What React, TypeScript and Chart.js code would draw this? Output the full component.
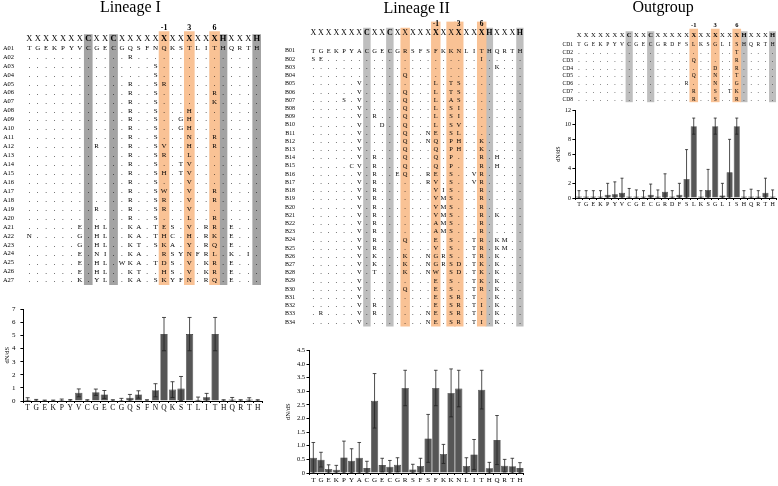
import React, { useEffect, useRef } from 'react';
import { Chart, registerables } from 'chart.js';

Chart.register(...registerables);

const SERIF = '"Liberation Serif", "Times New Roman", Times, serif';
const clean = (s: string) => s.replace(/ /g, '');

// ---------------- data: Lineage I ----------------
const lineage1Labels = ['T','G','E','K','P','Y','V','C','G','E','C','G','Q','S','F','N','Q','K','S','T','L','I','T','H','Q','R','T','H'];
const lineage1Values = [0.1,0.04,0.03,0.03,0.05,0.03,0.62,0.03,0.67,0.5,0.03,0.04,0.25,0.5,0.03,0.82,5.1,0.87,0.95,5.1,0.1,0.28,5.1,0.03,0.12,0.03,0.12,0.05];
const lineage1Errors = [0.15,0.08,0.04,0.04,0.1,0.08,0.3,0.07,0.24,0.3,0.07,0.16,0.25,0.28,0.07,0.5,1.27,0.6,0.92,1.27,0.2,0.3,1.27,0.07,0.15,0.07,0.13,0.05];
const lineage1RowNames = ['A01','A02','A03','A04','A05','A06','A07','A08','A09','A10','A11','A12','A13','A14','A15','A16','A17','A18','A19','A20','A21','A22','A23','A24','A25','A26','A27'];
const lineage1Alignment = [
  'TGEKPYV CGEC GQSFN QKST LITH QRTH',
  '....... .... .R... .... .... ....',
  '....... .... ....S .... .... ....',
  '....... .... ....S .... .... ....',
  '....... .... .R..S R... .... ....',
  '....... .... .R..S .... ..R. ....',
  '....... .... .R..S .... ..K. ....',
  '....... .... .R..S ...H .... ....',
  '....... .... .R..S ..GH .... ....',
  '....... .... .R..S ..GH .... ....',
  '....... .... .R..S ...N ..R. ....',
  '....... .R.. .R..S V..H ..R. ....',
  '....... .... .R..S R..L .... ....',
  '....... .... .R..S ..TV .... ....',
  '....... .... .R..S H.TV .... ....',
  '....... .... .R..S ...V .... ....',
  '....... .... .R..S W..V ..R. ....',
  '....... .... .R..S R..V ..R. ....',
  '....... .R.. .R..S R..V .... ....',
  '....... .... .R..S ...L ..R. ....',
  '......E .HL. .KA.T ES.V .RR. E...',
  'N.....G .HL. .KA.T HC.H .RK. E...',
  '......G .HL. .KT.S KA.Y .RQ. E...',
  '......E .NI. .KA.. RSYN FRL. K.I.',
  '......E .HL. WKA.T DS.V .KR. E...',
  '......E .HL. .KT.. HS.V .KR. E...',
  '......K .YL. .KA.S KYFN .RQ. E...',
];

// ---------------- data: Lineage II ----------------
const lineage2Labels = ['T','G','E','K','P','Y','A','C','G','E','C','G','R','S','F','S','F','K','K','N','L','I','T','H','Q','R','T','H'];
const lineage2Values = [0.56,0.49,0.15,0.12,0.57,0.45,0.56,0.18,2.65,0.29,0.23,0.3,3.12,0.13,0.26,1.27,3.12,0.7,2.94,3.1,0.26,0.68,3.06,0.17,1.21,0.27,0.25,0.18];
const lineage2Errors = [0.56,0.27,0.15,0.16,0.6,0.44,0.56,0.25,1.0,0.25,0.23,0.26,0.65,0.19,0.28,0.88,0.65,0.35,0.88,0.67,0.3,0.55,0.71,0.22,0.9,0.23,0.29,0.2];
const lineage2RowNames = ['B01','B02','B03','B04','B05','B06','B07','B08','B09','B10','B11','B12','B13','B14','B15','B16','B17','B18','B19','B20','B21','B22','B23','B24','B25','B26','B27','B28','B29','B30','B31','B32','B33','B34'];
const lineage2Alignment = [
  'TGEKPYA CGEC GRSFS FKKN LITH QRTH',
  'SE..... .... ..... .... ..I. ....',
  '....... .... ..... .... .... K...',
  '....... .... .Q... .... .... ....',
  '......V .... ..... L.TS .... ....',
  '......V .... .Q... L.TS .... ....',
  '....S.V .... .Q... L.AS .... ....',
  '......V .... .Q... L.SI .... ....',
  '......V .R.. .Q... L.SI .... ....',
  '......V ..D. .Q... L.SV .... ....',
  '......V .... .Q..N E.SL .... ....',
  '......V .... .Q..N Q.PH ..K. ....',
  '......V .... .Q... Q.PH ..K. ....',
  '......V .R.. .Q... Q.P. ..R. H...',
  '.....CV .R.. .Q... Q.P. ..R. H...',
  '......V .R.. EQ..R E.S. .VR. ....',
  '......V .R.. ....R V.S. .VR. ....',
  '......V .R.. ..... VIS. ..R. ....',
  '......V .R.. ..... VMS. ..R. ....',
  '......V .R.. ..... VMS. ..R. ....',
  '......V .R.. ..... VMS. ..R. K...',
  '......V .R.. ..... AMS. ..R. ....',
  '......V .R.. ..... AMS. ..R. ....',
  '......V .R.. .Q... E.S. .TR. KM..',
  '......V .R.. ..... V.S. .TR. KM..',
  '......V .K.. .K..N GRS. .TR. K...',
  '......V .K.. .K..N GRSD .TK. K...',
  '......V .T.. .K..N W.SD .TK. K...',
  '......V .... ..... E.S. .TK. K...',
  '......V .... .Q... E.S. .TR. K...',
  '......V .... ..... E.SR .T.. K...',
  '......V .R.. ..... E.SR .TI. K...',
  '.R....V .R.. ....N E.SR .TI. K...',
  '......V .... ....N E.SR .TI. K...',
];

// ---------------- data: Outgroup ----------------
const outgroupLabels = ['T','G','E','K','P','Y','V','C','G','E','C','G','R','D','F','S','L','K','S','G','L','I','S','H','Q','R','T','H'];
const outgroupValues = [0.2,0.2,0.2,0.2,0.45,0.5,0.7,0.2,0.2,0.2,0.45,0.2,0.85,0.2,0.45,2.6,9.8,0.2,1.1,9.8,0.35,3.5,9.8,0.2,0.2,0.2,0.7,0.2];
const outgroupErrors = [0.8,0.8,0.8,0.8,1.55,1.7,2.0,1.1,0.9,0.8,1.45,0.9,2.45,0.8,1.55,4.0,1.1,0.8,2.8,1.1,1.65,4.5,1.1,0.8,1.0,0.8,2.0,0.9];
const outgroupRowNames = ['CD1','CD2','CD3','CD4','CD5','CD6','CD7','CD8'];
const outgroupAlignment = [
  'TGEKPYV CGEC GRDFS LKSG LISH QRTH',
  '....... .... ..... .... ..T. ....',
  '....... .... ..... Q... ..R. ....',
  '....... .... ..... ...D ..R. ....',
  '....... .... ..... Q..N ..T. ....',
  '....... .... ....R ...N ..G. ....',
  '....... .... ..... R..S .TK. ....',
  '....... .... ..... R..S ..R. ....',
];

// ---------------- shared motif annotation ----------------
const motifHeader = 'XXXXXXX CXXC XXXXX XXXX XXXH XXXH';
const motifBoldCols = [7, 10, 16, 19, 22, 23, 27];
const positionCols = [16, 19, 22];
const positionLabels = ['-1', '3', '6'];
const grayCols = [7, 10, 23, 27];
const orangeColsL1 = [16, 19, 22];
const orangeColsL2 = [12, 16, 18, 19, 22];
const orangeShortColsL2 = [12];
const orangeColsOut = [16, 19, 22];

type Box = { left: number; top: number; width: number; height: number };

function makeAlignConfig(d: any, s: any) {
  const seqs: string[] = d.seqs.map(clean);
  const header = clean(motifHeader);
  const labels = seqs[0].split('');
  const orange = labels.map((_, i) =>
    d.orangeCols.includes(i) ? [(d.shortCols || []).includes(i) ? s.grayTop : s.orangeTop, s.bandBottom] : null);
  const gray = labels.map((_, i) => (grayCols.includes(i) ? [s.grayTop, s.bandBottom] : null));
  const textPlugin = {
    id: 'alignText',
    afterDatasetsDraw(chart: any) {
      const { ctx } = chart;
      const x = chart.scales.x;
      const y = chart.scales.y;
      ctx.save();
      ctx.fillStyle = '#000';
      ctx.textAlign = 'center';
      ctx.textBaseline = 'middle';
      ctx.font = `bold ${s.posFont}px ${SERIF}`;
      positionCols.forEach((c, k) => ctx.fillText(positionLabels[k], x.getPixelForValue(c), y.getPixelForValue(s.posRow)));
      const hy = y.getPixelForValue(s.headerRow);
      for (let c = 0; c < header.length; c++) {
        ctx.font = `${motifBoldCols.includes(c) ? 'bold ' : ''}${s.headerFont}px ${SERIF}`;
        ctx.fillText(header[c], x.getPixelForValue(c), hy);
      }
      ctx.font = `${s.seqFont}px ${SERIF}`;
      seqs.forEach((row, r) => {
        const py = y.getPixelForValue(r);
        for (let c = 0; c < row.length; c++) ctx.fillText(row[c], x.getPixelForValue(c), py);
      });
      ctx.restore();
    },
  };
  return {
    type: 'bar',
    data: {
      labels,
      datasets: [
        { data: orange, backgroundColor: s.orange, barThickness: s.orangeW, grouped: false },
        { data: gray, backgroundColor: s.gray, barThickness: s.grayW, grouped: false },
      ],
    },
    options: {
      responsive: false,
      animation: false,
      devicePixelRatio: 1,
      events: [],
      layout: { padding: s.pad },
      plugins: {
        legend: { display: false },
        tooltip: { enabled: false },
        title: {
          display: true,
          text: d.title,
          color: '#000',
          fullSize: s.titleFull,
          font: { family: SERIF, size: 16, weight: 'normal', lineHeight: 1 },
          padding: { top: 0, bottom: s.titlePadBottom },
        },
      },
      scales: {
        x: { display: false, offset: true },
        y: {
          type: 'linear',
          reverse: true,
          min: s.min,
          max: s.max,
          afterFit: (sc: any) => { sc.width = s.yW; },
          grid: { display: false, drawTicks: false },
          border: { display: false },
          ticks: {
            stepSize: 1,
            autoSkip: false,
            includeBounds: false,
            padding: s.labelPad,
            color: '#000',
            font: { family: SERIF, size: s.labelFont },
            callback: (v: number) => (Number.isInteger(v) && v >= 0 && v < d.rows.length ? d.rows[v] : ''),
          },
        },
      },
    },
    plugins: [textPlugin],
  };
}

function makeBarConfig(d: any, s: any) {
  const errPlugin = {
    id: 'errorBars',
    afterDatasetsDraw(chart: any) {
      const { ctx } = chart;
      const y = chart.scales.y;
      const meta = chart.getDatasetMeta(0);
      ctx.save();
      ctx.strokeStyle = '#222';
      ctx.lineWidth = 0.8;
      meta.data.forEach((bar: any, i: number) => {
        const v = d.values[i];
        const e = d.errors[i];
        const top = y.getPixelForValue(v + e);
        const bot = y.getPixelForValue(Math.max(0, v - e));
        const cx = bar.x;
        ctx.beginPath();
        ctx.moveTo(cx, top); ctx.lineTo(cx, bot);
        ctx.moveTo(cx - s.cap, top); ctx.lineTo(cx + s.cap, top);
        ctx.moveTo(cx - s.cap, bot); ctx.lineTo(cx + s.cap, bot);
        ctx.stroke();
      });
      ctx.restore();
    },
  };
  return {
    type: 'bar',
    data: {
      labels: d.labels,
      datasets: [{
        data: d.values,
        backgroundColor: '#565656',
        borderColor: '#2e2e2e',
        borderWidth: 0.6,
        barPercentage: s.barPct,
        categoryPercentage: 1,
      }],
    },
    options: {
      responsive: false,
      animation: false,
      devicePixelRatio: 1,
      events: [],
      layout: { padding: s.pad },
      plugins: { legend: { display: false }, tooltip: { enabled: false } },
      scales: {
        x: {
          afterFit: (sc: any) => { sc.height = s.xH; },
          grid: { drawOnChartArea: false, tickLength: 2, color: '#000' },
          border: { color: '#000', width: 1 },
          ticks: { autoSkip: false, maxRotation: 0, minRotation: 0, padding: 1, color: '#000', font: { family: SERIF, size: s.xFont } },
        },
        y: {
          min: 0,
          max: d.max,
          afterFit: (sc: any) => { sc.width = s.yW; },
          grid: { drawOnChartArea: false, tickLength: 3, color: '#000' },
          border: { color: '#000', width: 1 },
          ticks: { stepSize: d.step, autoSkip: false, padding: s.yPad, color: '#000', font: { family: SERIF, size: s.yFont } },
          title: {
            display: true,
            text: 'dN/dS',
            color: '#000',
            font: { family: SERIF, size: s.titleFont },
            padding: { top: s.titlePad, bottom: 0 },
          },
        },
      },
    },
    plugins: [errPlugin],
  };
}

function ChartCanvas({ box, make }: { box: Box; make: () => any }) {
  const ref = useRef<HTMLCanvasElement>(null);
  useEffect(() => {
    const chart = new Chart(ref.current as HTMLCanvasElement, make());
    return () => chart.destroy();
  }, []);
  return (
    <canvas
      ref={ref}
      width={box.width}
      height={box.height}
      style={{ position: 'absolute', left: box.left, top: box.top, width: box.width, height: box.height }}
    />
  );
}

const ORANGE = '#F9C295';

const alignI = { left: 0, top: 0, width: 264, height: 300 };
const alignII = { left: 270, top: 0, width: 256, height: 345 };
const alignOut = { left: 550, top: 0, width: 228, height: 108 };
const barsI = { left: 0, top: 300, width: 264, height: 118 };
const barsII = { left: 270, top: 345, width: 256, height: 141 };
const barsOut = { left: 550, top: 100, width: 228, height: 112 };

export default function App() {
  return (
    <div style={{ position: 'absolute', left: 0, top: 0, width: 778, height: 486, background: '#fff', overflow: 'hidden' }}>
      <ChartCanvas
        box={alignI}
        make={() => makeAlignConfig(
          { title: 'Lineage I', seqs: lineage1Alignment, rows: lineage1RowNames, orangeCols: orangeColsL1 },
          { pad: { top: 0, right: 3.1, left: 0, bottom: 5.3 }, yW: 25.1, min: -2.8, max: 26.5, titlePadBottom: 7, titleFull: true,
            labelPad: 11, labelFont: 6.5, seqFont: 7, headerFont: 8.5, posFont: 8, headerRow: -1.05, posRow: -2.23,
            orangeTop: -1.85, grayTop: -1.5, bandBottom: 26.45, orangeW: 10, grayW: 8, orange: ORANGE, gray: '#A3A3A3' })}
      />
      <ChartCanvas
        box={alignII}
        make={() => makeAlignConfig(
          { title: 'Lineage II', seqs: lineage2Alignment, rows: lineage2RowNames, orangeCols: orangeColsL2, shortCols: orangeShortColsL2 },
          { pad: { top: 1, right: 2.2, left: 0, bottom: 3.1 }, yW: 39.5, min: -3.6, max: 33.6, titlePadBottom: 4.3, titleFull: false,
            labelPad: 14.5, labelFont: 6, seqFont: 6.5, headerFont: 8, posFont: 7.5, headerRow: -2.2, posRow: -3.27,
            orangeTop: -3.54, grayTop: -2.78, bandBottom: 33.5, orangeW: 8.8, grayW: 6.8, orange: ORANGE, gray: '#BEBEBE' })}
      />
      <ChartCanvas
        box={alignOut}
        make={() => makeAlignConfig(
          { title: 'Outgroup', seqs: outgroupAlignment, rows: outgroupRowNames, orangeCols: orangeColsOut },
          { pad: { top: 0, right: 1.8, left: 0, bottom: 4.8 }, yW: 25.4, min: -3.0, max: 7.4, titlePadBottom: 5.4, titleFull: true,
            labelPad: 2.4, labelFont: 5.5, seqFont: 5.5, headerFont: 6.5, posFont: 6.5, headerRow: -1.27, posRow: -2.54,
            orangeTop: -2.0, grayTop: -1.7, bandBottom: 7.42, orangeW: 8, grayW: 6.5, orange: ORANGE, gray: '#BEBEBE' })}
      />
      <ChartCanvas
        box={barsI}
        make={() => makeBarConfig(
          { labels: lineage1Labels, values: lineage1Values, errors: lineage1Errors, max: 7, step: 1 },
          { pad: { top: 8, right: 2, left: 0, bottom: 0 }, yW: 23.4, xH: 17, yPad: 5, xFont: 7.5, yFont: 7,
            titleFont: 6.5, titlePad: 3, barPct: 0.86, cap: 2 })}
      />
      <ChartCanvas
        box={barsII}
        make={() => makeBarConfig(
          { labels: lineage2Labels, values: lineage2Values, errors: lineage2Errors, max: 4.5, step: 0.5 },
          { pad: { top: 5, right: 2.2, left: 0, bottom: 0 }, yW: 39.5, xH: 13, yPad: 1.5, xFont: 7, yFont: 6.5,
            titleFont: 6.5, titlePad: 14, barPct: 0.95, cap: 1.8 })}
      />
      <ChartCanvas
        box={barsOut}
        make={() => makeBarConfig(
          { labels: outgroupLabels, values: outgroupValues, errors: outgroupErrors, max: 12, step: 2 },
          { pad: { top: 10, right: 1.8, left: 0, bottom: 0 }, yW: 25.4, xH: 14, yPad: 1.4, xFont: 6, yFont: 6,
            titleFont: 6, titlePad: 4.4, barPct: 0.85, cap: 1.5 })}
      />
    </div>
  );
}
